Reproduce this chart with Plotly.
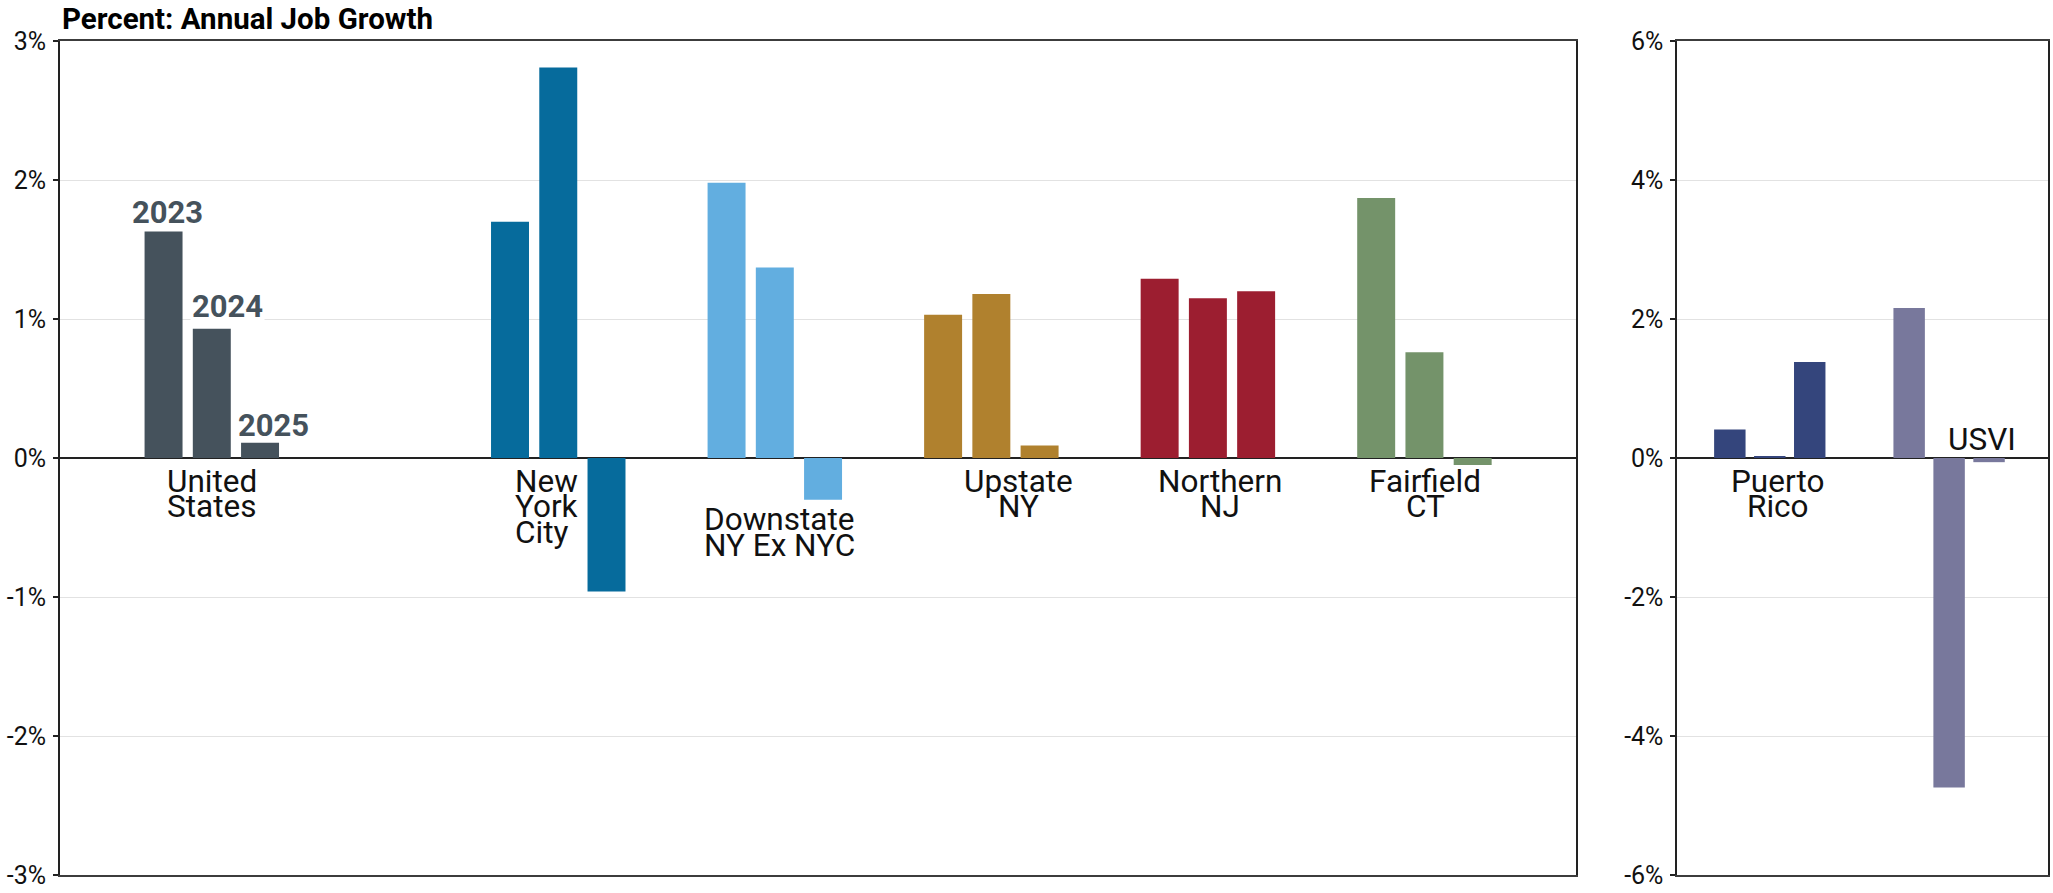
import plotly.graph_objects as go

# ---- data -------------------------------------------------------------
regions = ["United States", "New York City", "Downstate NY Ex NYC",
           "Upstate NY", "Northern NJ", "Fairfield CT"]
territories = ["Puerto Rico", "USVI"]
years = ["2023", "2024", "2025"]

# annual job growth, percent
region_2023 = [1.63, 1.70, 1.98, 1.03, 1.29, 1.87]
region_2024 = [0.93, 2.81, 1.37, 1.18, 1.15, 0.76]
region_2025 = [0.11, -0.96, -0.30, 0.09, 1.20, -0.05]

territory_2023 = [0.41, 2.16]
territory_2024 = [0.02, -4.74]
territory_2025 = [1.38, -0.06]

left_ticks = [-3, -2, -1, 0, 1, 2, 3]
left_tick_labels = ["-3%", "-2%", "-1%", "0%", "1%", "2%", "3%"]
right_ticks = [-6, -4, -2, 0, 2, 4, 6]
right_tick_labels = ["-6%", "-4%", "-2%", "0%", "2%", "4%", "6%"]

# ---- style / layout ---------------------------------------------------
region_colors = ["#45525c", "#066b9c", "#62aee0", "#b0812e", "#9c1e30", "#74936a"]
territory_colors = ["#34457c", "#78789c"]

region_pos = [0, 1.6, 2.6, 3.6, 4.6, 5.6]
territory_pos = [0, 1]

FONT = "Roboto"
BARGAP = 0.3316
BARGROUPGAP = 0.213
BAR_STEP = (1 - BARGAP) / 3

# category label lines, horizontal offset (group units), anchor, first line shift (px)
region_label_lines = [["United", "States"], ["New", "York", "City"],
                      ["Downstate", "NY Ex NYC"], ["Upstate", "NY"],
                      ["Northern", "NJ"], ["Fairfield", "CT"]]
region_label_dx = [0.0, -0.207, 0.02, 0.125, 0.055, 0.003]
region_label_anchor = ["center", "left", "center", "center", "center", "center"]
region_label_shift = [-23.1, -23.1, -61.3, -23.1, -23.1, -23.1]

territory_label_lines = [["Puerto", "Rico"], ["USVI"]]
territory_label_dx = [0.045, 0.183]
territory_label_anchor = ["center", "center"]
territory_label_shift = [-23.1, 18.7]

LINE_GAP = 25.7
LABEL_SIZE = 31.5

# year tags placed over the United States bars: (x shift px, y shift px, white backing)
year_tag_style = [(3.7, 18.7, False), (16, 22, True), (13, 17.6, False)]

fig = go.Figure()

for yr, vals in zip(years, [region_2023, region_2024, region_2025]):
    fig.add_trace(go.Bar(x=region_pos, y=vals, name=yr, marker_color=region_colors,
                         marker_line_width=0, showlegend=False,
                         xaxis="x", yaxis="y"))
for yr, vals in zip(years, [territory_2023, territory_2024, territory_2025]):
    fig.add_trace(go.Bar(x=territory_pos, y=vals, name=yr, marker_color=territory_colors,
                         marker_line_width=0, showlegend=False,
                         xaxis="x2", yaxis="y2"))

annotations = []


def add_labels(lines_list, pos, dxs, anchors, shifts, xref, yref):
    for lines, p, dx, anc, sh in zip(lines_list, pos, dxs, anchors, shifts):
        for i, line in enumerate(lines):
            annotations.append(dict(
                text=line, x=p + dx, y=0, xref=xref, yref=yref,
                xanchor=anc, yanchor="middle", yshift=sh - i * LINE_GAP,
                showarrow=False,
                font=dict(family=FONT, size=LABEL_SIZE, color="#111111")))


add_labels(region_label_lines, region_pos, region_label_dx, region_label_anchor,
           region_label_shift, "x", "y")
add_labels(territory_label_lines, territory_pos, territory_label_dx,
           territory_label_anchor, territory_label_shift, "x2", "y2")

# year tags over the first group
us_vals = [region_2023[0], region_2024[0], region_2025[0]]
for k, (yr, v, (xs, ys, back)) in enumerate(zip(years, us_vals, year_tag_style)):
    annotations.append(dict(
        text=f"<b>{yr}</b>", x=region_pos[0] + (k - 1) * BAR_STEP, y=v,
        xref="x", yref="y", xanchor="center", yanchor="middle",
        xshift=xs, yshift=ys, showarrow=False,
        bgcolor="white" if back else "rgba(0,0,0,0)",
        font=dict(family=FONT, size=31, color=region_colors[0])))

# chart title
annotations.append(dict(
    text="<b>Percent: Annual Job Growth</b>", xref="paper", yref="paper",
    x=0, y=1, xanchor="left", yanchor="middle", yshift=22, showarrow=False,
    font=dict(family=FONT, size=29.5, color="#000000")))

y_common = dict(
    ticks="outside", ticklen=5, tickwidth=1.5, tickcolor="#222222",
    showgrid=True, gridcolor="#e2e2e2", gridwidth=1,
    zeroline=True, zerolinecolor="#222222", zerolinewidth=1.5,
    showline=True, linecolor="#222222", linewidth=2, mirror=True,
    tickfont=dict(family=FONT, size=25, color="#111111"),
    ticklabelstandoff=2, fixedrange=True)
x_common = dict(
    showticklabels=False, ticks="", showgrid=False, zeroline=False,
    showline=True, linecolor="#3c3c3c", linewidth=2, mirror=True, fixedrange=True)

fig.update_layout(
    width=2053, height=893,
    margin=dict(l=60, r=3, t=41, b=15),
    paper_bgcolor="white", plot_bgcolor="white",
    barmode="group", bargap=BARGAP, bargroupgap=BARGROUPGAP,
    font=dict(family=FONT),
    xaxis=dict(domain=[0, 0.7628], range=[-0.701, 6.302], anchor="y", **x_common),
    yaxis=dict(range=[-3, 3], tickvals=left_ticks, ticktext=left_tick_labels,
               anchor="x", **y_common),
    xaxis2=dict(domain=[0.8136, 1.0], range=[-0.515, 1.5515], anchor="y2", **x_common),
    yaxis2=dict(range=[-6, 6], tickvals=right_ticks, ticktext=right_tick_labels,
                anchor="x2", **y_common),
    annotations=annotations,
)

fig.write_html("out.html", config={"displayModeBar": False})
